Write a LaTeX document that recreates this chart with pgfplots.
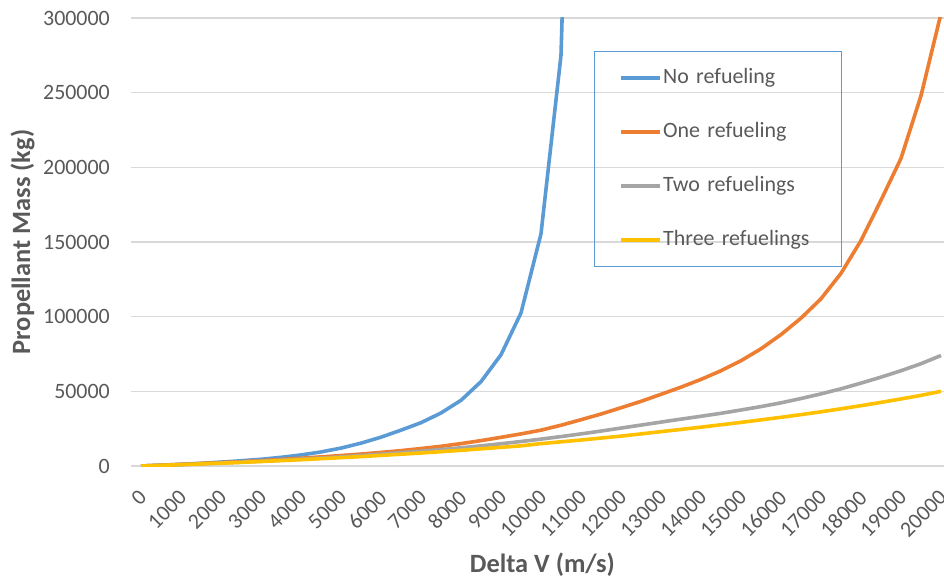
\documentclass[border=0pt]{standalone}
\usepackage{pgfplots}
\pgfplotsset{compat=1.18}
\usepackage{fontspec}
\setmainfont{Carlito}
\definecolor{cBlue}{HTML}{5B9BD5}
\definecolor{cOrange}{HTML}{ED7D31}
\definecolor{cGray}{HTML}{A5A5A5}
\definecolor{cYellow}{HTML}{FFC000}
\definecolor{cText}{HTML}{595959}
\definecolor{cGrid}{HTML}{D9D9D9}
\begin{document}
\begin{tikzpicture}
\begin{axis}[
  scale only axis, width=813bp, height=448bp,
  xmin=-250, xmax=20075, ymin=0, ymax=300000,
  xtick={0,1000,...,20000}, ytick={0,50000,...,300000},
  scaled x ticks=false, scaled y ticks=false,
  /pgf/number format/assume math mode=true,
  /pgf/number format/fixed, /pgf/number format/1000 sep={},
  axis line style={draw=none}, major tick length=0pt,
  ymajorgrids, grid style={cGrid, line width=1.3bp},
  tick label style={font=\fontsize{22}{24}\selectfont, text=cText},
  yticklabel style={anchor=east, inner sep=0pt, xshift=-21bp},
  xticklabel style={anchor=east, inner sep=0pt, xshift=2bp, yshift=-28bp, rotate=45},
  xlabel={Delta V (m/s)}, ylabel={Propellant Mass (kg)},
  every axis x label/.style={at={(axis description cs:0.506,-0.2366)}, anchor=base,
    font=\bfseries\fontsize{26.5}{28}\selectfont, text=cText},
  every axis y label/.style={at={(axis description cs:-0.1242,0.5)}, anchor=base, rotate=90,
    font=\bfseries\fontsize{26.5}{28}\selectfont, text=cText},
  no markers,
  legend cell align=left,
  legend image code/.code={\draw[#1, line width=3.6bp] (0bp,0bp) -- (39bp,0bp);},
  legend style={at={(axis description cs:0.5695,0.9263)}, anchor=north west,
    draw=cBlue, line width=1.2bp, fill=none, inner xsep=25bp, inner ysep=16bp,
    row sep=33bp, font=\fontsize{22}{24}\selectfont, text=cText,
    nodes={inner sep=0pt, text height=16bp, text depth=5bp, text width=153bp, align=left},
    /tikz/every odd column/.append style={column sep=1bp}},
]
\addplot[cBlue, line width=3.6bp, line join=round] table {
0 0
500 550
1000 1150
1500 1800
2000 2600
2500 3500
3000 4500
3500 5800
4000 7400
4500 9400
5000 12000
5500 15300
6000 19300
6500 24000
7000 29000
7500 35500
8000 44000
8500 56500
9000 74500
9500 102500
10000 155500
10500 275000
11000 730000
};
\addlegendentry{No refueling}
\addplot[cOrange, line width=3.6bp, line join=round] table {
0 0
500 500
1000 1100
1500 1700
2000 2300
2500 2900
3000 3600
3500 4400
4000 5200
4500 6100
5000 7000
5500 8000
6000 9100
6500 10300
7000 11700
7500 13200
8000 15000
8500 17000
9000 19200
9500 21500
10000 24000
10500 27300
11000 31000
11500 34800
12000 39000
12500 43300
13000 48000
13500 52800
14000 58000
14500 63800
15000 70500
15500 78500
16000 88000
16500 99000
17000 112000
17500 129000
18000 151000
18500 178000
19000 206000
19500 248000
20000 303000
};
\addlegendentry{One refueling}
\addplot[cGray, line width=3.6bp, line join=round] table {
0 0
500 450
1000 950
1500 1450
2000 2000
2500 2600
3000 3200
3500 3900
4000 4600
4500 5300
5000 6100
5500 7000
6000 7900
6500 8900
7000 9900
7500 11000
8000 12200
8500 13500
9000 14900
9500 16400
10000 18000
10500 19700
11000 21500
11500 23400
12000 25400
12500 27400
13000 29400
13500 31400
14000 33300
14500 35300
15000 37500
15500 39800
16000 42300
16500 45200
17000 48300
17500 51700
18000 55500
18500 59500
19000 63800
19500 68500
20000 74000
};
\addlegendentry{Two refuelings}
\addplot[cYellow, line width=3.6bp, line join=round] table {
0 0
500 450
1000 900
1500 1400
2000 1900
2500 2400
3000 3000
3500 3600
4000 4200
4500 4900
5000 5600
5500 6300
6000 7100
6500 7900
7000 8700
7500 9600
8000 10500
8500 11500
9000 12500
9500 13500
10000 15000
10500 16200
11000 17400
11500 18700
12000 20000
12500 21500
13000 23000
13500 24500
14000 26000
14500 27600
15000 29200
15500 30900
16000 32600
16500 34400
17000 36300
17500 38300
18000 40400
18500 42600
19000 44900
19500 47300
20000 50000
};
\addlegendentry{Three refuelings}
\coordinate (bl) at (rel axis cs:0,0);
\coordinate (tr) at (rel axis cs:1,1);
\end{axis}
\pgfresetboundingbox
\path[use as bounding box] ([shift={(-131bp,-115bp)}]bl) rectangle ([shift={(0bp,18bp)}]tr);
\end{tikzpicture}
\end{document}
